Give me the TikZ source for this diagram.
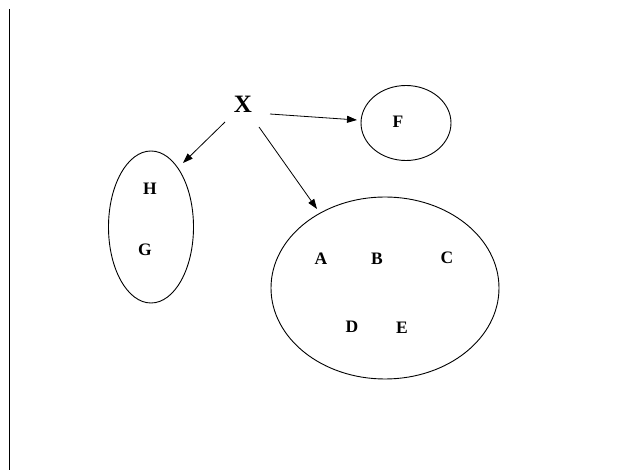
\documentclass[tikz,border=0pt]{standalone}
\usepackage{fontspec}
\setmainfont{Liberation Serif}
\usetikzlibrary{shapes.geometric,arrows.meta}
\begin{document}
\begin{tikzpicture}[x=1pt,y=-1pt,
  setshape/.style={ellipse,draw,line width=0.9pt,inner sep=0pt},
  lbl/.style={font=\fontsize{17.5}{17.5}\selectfont\bfseries,inner sep=0pt},
  arr/.style={line width=0.8pt,-{Triangle[length=10pt,width=7pt]}}]
\useasboundingbox (0,0) rectangle (632,470);
\fill[white] (0,0) rectangle (632,470);
% left margin line
\draw[line width=1.4pt] (9.5,9) -- (9.5,470);
% sets
\node[setshape,minimum width=90pt,minimum height=75pt] (F) at (406,123) {};
\node[setshape,minimum width=85pt,minimum height=152pt] (HG) at (151,227) {};
\node[setshape,minimum width=228pt,minimum height=182pt] (ABC) at (385,288) {};
% labels
\node[font=\fontsize{25}{25}\selectfont\bfseries,inner sep=0pt] (X) at (243,104) {X};
\node[lbl] (lF) at (398,122) {F};
\node[lbl] (lH) at (150,189) {H};
\node[lbl] (lG) at (145,250) {G};
\node[lbl] (lA) at (321,259) {A};
\node[lbl] (lB) at (377,259) {B};
\node[lbl] (lC) at (447,258) {C};
\node[lbl] (lD) at (352,327) {D};
\node[lbl] (lE) at (402,328) {E};
% arrow start and end points
\coordinate (sF) at (270,114);
\coordinate (sHG) at (225,122);
\coordinate (sABC) at (259,127);
\coordinate (tF) at (357,120);
\coordinate (tHG) at (183,163);
\coordinate (tABC) at (317,209);
\draw[arr] (sF) -- (tF);
\draw[arr] (sHG) -- (tHG);
\draw[arr] (sABC) -- (tABC);
\end{tikzpicture}
\end{document}
